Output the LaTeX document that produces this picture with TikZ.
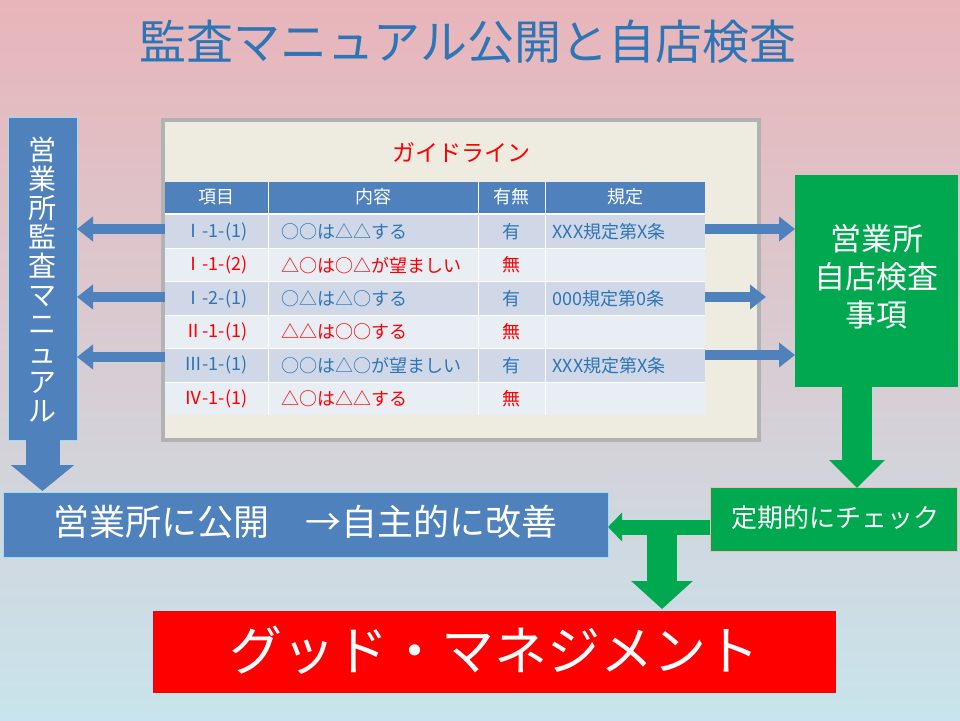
\documentclass[tikz,border=0pt]{standalone}
\usepackage{fontspec}
\setmainfont{Noto Sans CJK JP}
\usetikzlibrary{arrows.meta,shadows}
\definecolor{bl}{HTML}{4F81BD}
\definecolor{gr}{HTML}{00A850}
\definecolor{tb}{HTML}{2E75B6}
\definecolor{rowa}{HTML}{D0D8E8}
\definecolor{rowb}{HTML}{E9EDF4}
\definecolor{panel}{HTML}{EEEBE1}
\definecolor{bgtop}{HTML}{E8B5BA}
\definecolor{bgmid}{HTML}{F4F2F4}
\definecolor{bgbot}{HTML}{C8E4EC}
\tikzset{
 box/.style={draw=none,inner sep=0,anchor=north west},
 wt/.style={text=white},
 barr/.style={draw=bl,line width=10pt,-{Triangle[width=24pt,length=16pt]}},
 garr/.style={draw=gr,line width=30pt,-{Triangle[width=54pt,length=28pt]}},
 cell/.style={font=\fontsize{18}{20}\selectfont,anchor=center},
 cl/.style={font=\fontsize{18}{20}\selectfont,anchor=west},
}
\begin{document}
\begin{tikzpicture}[x=1pt,y=-1pt]
\useasboundingbox (0,0) rectangle (960,720);
\shade[top color=bgtop, middle color=bgmid, bottom color=bgbot] (0,0) rectangle (960,720);
\node[text=tb,font=\fontsize{47}{50}\selectfont] (title) at (468,42) {監査マニュアル公開と自店検査};
% left box
\fill[bl,draw=cyan!40] (8,117) rectangle (77,440);
\node[wt,align=center,font=\fontsize{28}{29}\selectfont] (lbox) at (42.5,280) {営\\業\\所\\監\\査\\マ\\ニ\\ュ\\ア\\ル};
\coordinate (lboxs) at (42.5,440);
% panel
\fill[gray!60] (161,118) rectangle (761,442);
\fill[panel] (165,122) rectangle (757,438);
\node[text=red,font=\fontsize{23}{25}\selectfont] (gl) at (461,153) {ガイドライン};
% table
\fill[bl] (165,182) rectangle (705,213);
\foreach \i/\c in {0/rowa,1/rowb,2/rowa,3/rowb,4/rowa,5/rowb}{
 \fill[\c] (165,{215+\i*33.4}) rectangle (705,{215+(\i+1)*33.4});}
\foreach \x in {268,478,545}{\draw[white,line width=1pt] (\x,182)--(\x,415.4);}
\foreach \i in {1,...,5}{\draw[white,line width=1pt] (165,{215+\i*33.4})--(705,{215+\i*33.4});}
\draw[white,line width=2pt] (165,214)--(705,214);
\node[cell,wt] (h1) at (216,197) {項目};
\node[cell,wt] (h2) at (373,197) {内容};
\node[cell,wt] (h3) at (511,197) {有無};
\node[cell,wt] (h4) at (625,197) {規定};
\foreach \i/\a/\b/\cc/\d/\col in {
 0/Ⅰ-1-(1)/○○は△△する/有/XXX規定第X条/tb,
 1/Ⅰ-1-(2)/△○は○△が望ましい/無//red,
 2/Ⅰ-2-(1)/○△は△○する/有/000規定第0条/tb,
 3/Ⅱ-1-(1)/△△は○○する/無//red,
 4/Ⅲ-1-(1)/○○は△○が望ましい/有/XXX規定第X条/tb,
 5/Ⅳ-1-(1)/△○は△△する/無//red}{
 \node[cell,text=\col] (r\i a) at (216,{231.7+\i*33.4}) {\a};
 \node[cl,text=\col] (r\i b) at (278,{231.7+\i*33.4}) {\b};
 \node[cell,text=\col] (r\i c) at (511,{231.7+\i*33.4}) {\cc};
 \node[cl,text=\col] (r\i d) at (549,{231.7+\i*33.4}) {\d};
}
\coordinate (tl0) at (165,229); \coordinate (la0) at (77,229);
\coordinate (tl2) at (165,297); \coordinate (la2) at (77,297);
\coordinate (tl4) at (165,357); \coordinate (la4) at (77,357);
\coordinate (tr0) at (705,229); \coordinate (ra0) at (795,229);
\coordinate (tr2) at (705,297); \coordinate (ra2) at (766,297);
\coordinate (tr4) at (705,355); \coordinate (ra4) at (795,355);
% right green box
\node[box,fill=gr,minimum width=163pt,minimum height=212pt] (gbox) at (795,175) {};
\node[wt,align=center,font=\fontsize{31}{38}\selectfont] (gtxt) at (876.5,277) {営業所\\自店検査\\事項};
% blue arrows
\draw[barr] (tl0) -- (la0);
\draw[barr] (tl2) -- (la2);
\draw[barr] (tl4) -- (la4);
\draw[barr] (tr0) -- (ra0);
\draw[barr] (tr2) -- (ra2);
\draw[barr] (tr4) -- (ra4);
% left down arrow
\coordinate (lbt) at (42.5,491);
\draw[draw=bl,line width=34pt,-{Triangle[width=62pt,length=26pt]}] (lboxs) -- (lbt);
% green check box
\node[box,fill=gr,draw=red!30,minimum width=247pt,minimum height=64pt] (chk) at (710,487) {};
\node[wt,font=\fontsize{26}{28}\selectfont] (chkt) at (835,518) {定期的にチェック};
\coordinate (gbs) at (857,387);
\coordinate (gbt) at (857,488);
\draw[garr] (gbs) -- (gbt);
% blue box
\node[box,fill=bl,draw=cyan!40,minimum width=605pt,minimum height=65pt] (pub) at (3,492) {};
\node[wt,font=\fontsize{36}{40}\selectfont] (pubt) at (305,522) {営業所に公開　→自主的に改善};
% T arrows
\coordinate (cl) at (710,527);
\coordinate (cr) at (608,527);
\draw[draw=gr,line width=15pt,-{Triangle[width=28pt,length=14pt]}] (cl) -- (cr);
\coordinate (ts) at (662,520);
\coordinate (tt) at (662,609);
\draw[draw=gr,line width=30pt,-{Triangle[width=60pt,length=28pt]}] (ts) -- (tt);
% red box
\node[box,fill=red,draw=cyan!30,minimum width=684pt,minimum height=83pt] (gm) at (152,610) {};
\node[wt,font=\fontsize{53}{56}\selectfont] (gmt) at (494,650) {グッド・マネジメント};
\end{tikzpicture}
\end{document}
